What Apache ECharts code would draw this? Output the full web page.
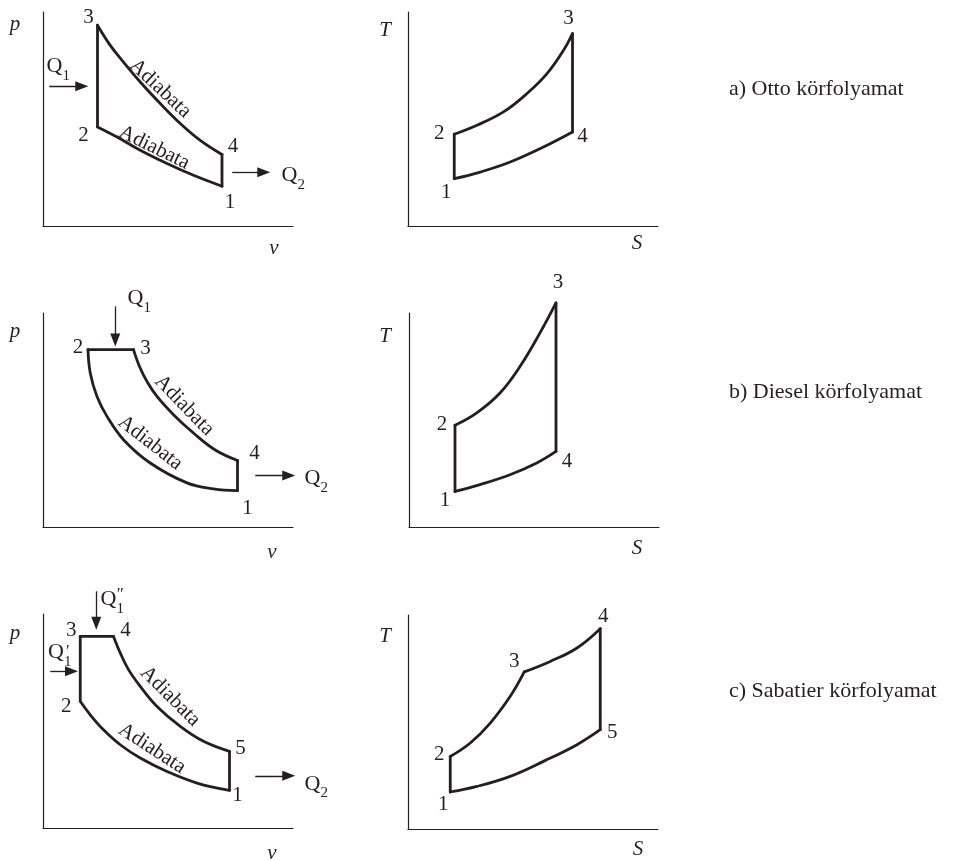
<!DOCTYPE html>
<html>
<head>
<meta charset="utf-8">
<title>Otto, Diesel, Sabatier körfolyamat</title>
<script src="https://cdn.jsdelivr.net/npm/echarts@6.0.0/dist/echarts.min.js"></script>
<style>
html,body{margin:0;padding:0;background:#ffffff;}
#chart{width:960px;height:860px;}
</style>
</head>
<body>
<div id="chart"></div>
<script>
// ======================= DATA (axes in 0–100 arbitrary units) =======================

// ---- a) Otto, p–v ----
const ottoPV_states   = { '1': [71.6, 18.6], '2': [21.8, 46.3], '3': [21.8, 93.8], '4': [71.6, 33.4] };
const ottoPV_adiab34  = [[21.8, 93.8], [26.9, 84.4], [32.2, 76.6], [38.9, 67.3], [46.9, 57.2], [54.9, 47.9], [62.9, 40.0], [71.6, 33.4]];
const ottoPV_adiab12  = [[21.8, 46.3], [29.6, 41.6], [38.9, 35.4], [49.6, 29.2], [60.2, 23.7], [71.6, 18.6]];
const ottoPV_Q1       = [[2.5, 65.3], [15.5, 65.3]];
const ottoPV_Q2       = [[75.7, 25.1], [88.3, 25.1]];
const ottoPV_adiabTxt = [[46.9, 64.2], [44.5, 36.6]];

// ---- a) Otto, T–S ----
const ottoTS_states   = { '1': [18.5, 22.1], '2': [18.5, 42.9], '3': [65.8, 89.9], '4': [65.8, 43.9] };
const ottoTS_heat23   = [[18.5, 42.9], [27.6, 47.1], [38.2, 53.3], [47.6, 61.9], [55.6, 71.2], [62.2, 82.1], [65.8, 89.9]];
const ottoTS_heat41   = [[18.5, 22.1], [28.9, 25.2], [40.9, 29.9], [54.2, 36.9], [65.8, 43.9]];

// ---- b) Diesel, p–v ----
const dieselPV_states   = { '1': [77.8, 17.0], '2': [18.0, 82.9], '3': [36.2, 82.9], '4': [77.8, 31.1] };
const dieselPV_adiab34  = [[36.2, 82.9], [38.6, 75.0], [41.6, 68.0], [45.6, 61.0], [52.2, 52.5], [60.2, 43.9], [68.9, 36.0], [77.8, 31.1]];
const dieselPV_adiab12  = [[18.0, 82.9], [18.9, 72.0], [21.6, 61.0], [25.6, 51.7], [32.2, 40.8], [42.9, 29.9], [57.6, 20.6], [68.2, 17.8], [77.8, 17.0]];
const dieselPV_Q1       = [[28.9, 103.1], [28.9, 87.4]];
const dieselPV_Q2       = [[84.9, 24.1], [98.3, 24.1]];
const dieselPV_adiabTxt = [[56.5, 56.8], [42.9, 39.3]];

// ---- b) Diesel, T–S ----
const dieselTS_states = { '1': [18.4, 16.6], '2': [18.4, 47.5], '3': [58.8, 104.7], '4': [58.8, 35.3] };
const dieselTS_heat23 = [[18.4, 47.5], [27.1, 53.3], [36.4, 62.6], [44.4, 75.0], [52.4, 90.7], [58.8, 104.7]];
const dieselTS_heat41 = [[18.4, 16.6], [28.4, 19.8], [40.4, 24.4], [51.1, 29.9], [58.8, 35.3]];

// ---- c) Sabatier, p–v ----
const sabPV_states   = { '1': [74.6, 17.6], '2': [14.9, 59.2], '3': [14.9, 89.5], '4': [28.2, 89.5], '5': [74.6, 35.8] };
const sabPV_adiab45  = [[28.2, 89.5], [30.9, 81.8], [34.2, 74.0], [38.9, 66.2], [45.6, 56.8], [54.9, 47.5], [64.2, 40.5], [74.6, 35.8]];
const sabPV_adiab12  = [[14.9, 59.2], [18.9, 52.9], [24.2, 45.9], [30.9, 38.9], [38.9, 32.7], [49.6, 26.4], [61.6, 21.0], [74.6, 17.6]];
const sabPV_Q1pp     = [[21.3, 110.6], [21.3, 95.7]];
const sabPV_Q1p      = [[2.9, 73.2], [11.4, 73.2]];
const sabPV_Q2       = [[84.9, 24.4], [98.3, 24.4]];
const sabPV_adiabTxt = [[50.9, 61.5], [43.6, 37.1]];

// ---- c) Sabatier, T–S ----
const sabTS_states = { '1': [16.9, 17.3], '2': [16.9, 33.9], '3': [46.5, 73.4], '4': [76.9, 93.6], '5': [76.9, 46.4] };
const sabTS_heat23 = [[16.9, 33.9], [24.9, 40.2], [32.9, 49.5], [40.9, 62.0], [46.5, 73.4]];
const sabTS_heat34 = [[46.5, 73.4], [56.9, 78.3], [67.6, 84.6], [76.9, 93.6]];
const sabTS_heat51 = [[16.9, 17.3], [27.6, 19.9], [40.9, 24.6], [54.2, 31.6], [67.6, 39.4], [76.9, 46.4]];

// ---- texts ----
const axisNames = [['v', 'p'], ['S', 'T'], ['v', 'p'], ['S', 'T'], ['v', 'p'], ['S', 'T']];
const captions  = ['a) Otto körfolyamat', 'b) Diesel körfolyamat', 'c) Sabatier körfolyamat'];
const ADIABATA  = 'Adiabata';

// ======================= PANELS (structure only) =======================
const s = (o, a, b) => [o[a], o[b]];
const panels = [
  { states: ottoPV_states,
    segments: [s(ottoPV_states, '2', '3'), ottoPV_adiab34, s(ottoPV_states, '4', '1'), ottoPV_adiab12],
    arrows: [{ line: ottoPV_Q1, sub: '1' }, { line: ottoPV_Q2, sub: '2' }],
    adiab: ottoPV_adiabTxt },
  { states: ottoTS_states,
    segments: [s(ottoTS_states, '1', '2'), ottoTS_heat23, s(ottoTS_states, '3', '4'), ottoTS_heat41],
    arrows: [], adiab: [] },
  { states: dieselPV_states,
    segments: [s(dieselPV_states, '2', '3'), dieselPV_adiab34, s(dieselPV_states, '4', '1'), dieselPV_adiab12],
    arrows: [{ line: dieselPV_Q1, sub: '1' }, { line: dieselPV_Q2, sub: '2' }],
    adiab: dieselPV_adiabTxt },
  { states: dieselTS_states,
    segments: [s(dieselTS_states, '1', '2'), dieselTS_heat23, s(dieselTS_states, '3', '4'), dieselTS_heat41],
    arrows: [], adiab: [] },
  { states: sabPV_states,
    segments: [s(sabPV_states, '2', '3'), s(sabPV_states, '3', '4'), sabPV_adiab45, s(sabPV_states, '5', '1'), sabPV_adiab12],
    arrows: [{ line: sabPV_Q1pp, sub: '1', prime: '\u2033' }, { line: sabPV_Q1p, sub: '1', prime: '\u2032' }, { line: sabPV_Q2, sub: '2' }],
    adiab: sabPV_adiabTxt },
  { states: sabTS_states,
    segments: [s(sabTS_states, '1', '2'), sabTS_heat23, sabTS_heat34, s(sabTS_states, '4', '5'), sabTS_heat51],
    arrows: [], adiab: [] }
];

// ======================= LAYOUT & STYLE =======================
const INK = '#231f20';
const SERIF = '"Liberation Serif","Times New Roman",Times,serif';
const GRID_POS = [
  { left: 43, top: 12 }, { left: 408, top: 12 },
  { left: 43, top: 313 }, { left: 409, top: 313 },
  { left: 43, top: 614 }, { left: 408, top: 615 }
];
const GRID_W = 250, GRID_H = 214;
const CAPTION_POS = [{ left: 729, top: 78 }, { left: 729, top: 381 }, { left: 729, top: 680 }];
const ARROW_PATH = 'path://M0,0M13,13M6.5,0L11.5,13L1.5,13Z';

const STYLE = [
  { state: { '1': [8, 16], '2': [-14, 9], '3': [-9, -8], '4': [11, -8] },
    qLab: [[9, -20], [61, 3]], prime: [], rot: [-43, -26], yName: [28, 12.5], xName: [-19, 22] },
  { state: { '1': [-8, 14], '2': [-15, -1], '3': [-4, -15], '4': [10, 4] },
    qLab: [], prime: [], rot: [], yName: [23, 18], xName: [-21, 17] },
  { state: { '1': [10, 18], '2': [-10, -2], '3': [12, -1], '4': [17, -7] },
    qLab: [[24, -8], [61, 3]], prime: [], rot: [-46, -38], yName: [28, 18.5], xName: [-21, 25] },
  { state: { '1': [-10, 9], '2': [-13, -1], '3': [2, -20], '4': [11, 10] },
    qLab: [], prime: [], rot: [], yName: [24, 23], xName: [-22, 21] },
  { state: { '1': [8, 5], '2': [-14, 5], '3': [-9, -6], '4': [12, -6], '5': [11, -3] },
    qLab: [[16, 8.3], [9.5, -19.2], [61, 8]], prime: [[24, 3], [17.5, -20], null], rot: [-45, -33], yName: [28, 19], xName: [-21, 25] },
  { state: { '1': [-7, 13], '2': [-11, -2], '3': [-10, -10], '4': [3, -12], '5': [12, 3] },
    qLab: [], prime: [], rot: [], yName: [23, 21], xName: [-20, 20] }
];

// ======================= OPTION =======================
const grid = [], xAxis = [], yAxis = [], series = [];
const axisCommon = {
  type: 'value', min: 0, max: 100,
  axisLine: { show: true, onZero: false, lineStyle: { color: INK, width: 1.2 } },
  axisTick: { show: false }, axisLabel: { show: false }, splitLine: { show: false },
  nameLocation: 'end'
};
const nameFont = { fontFamily: SERIF, fontStyle: 'italic', fontSize: 21, color: INK, align: 'center' };
const noBorder = { textBorderWidth: 0, textBorderColor: 'transparent', textShadowBlur: 0 };

panels.forEach((P, i) => {
  const S = STYLE[i];
  grid.push({ left: GRID_POS[i].left, top: GRID_POS[i].top, width: GRID_W, height: GRID_H, containLabel: false, outerBoundsMode: 'none' });
  xAxis.push(Object.assign({}, axisCommon, {
    gridIndex: i, name: axisNames[i][0], nameGap: S.xName[0],
    nameTextStyle: Object.assign({}, nameFont, { verticalAlign: 'top', lineHeight: 2 * S.xName[1] })
  }));
  yAxis.push(Object.assign({}, axisCommon, {
    gridIndex: i, name: axisNames[i][1], nameGap: -S.yName[1],
    nameTextStyle: Object.assign({}, nameFont, { verticalAlign: 'middle', padding: [0, 2 * S.yName[0], 0, 0] })
  }));

  P.segments.forEach(seg => series.push({
    type: 'line', xAxisIndex: i, yAxisIndex: i, data: seg,
    smooth: seg.length > 2 ? 0.4 : false, showSymbol: false, symbol: 'none',
    clip: false, silent: true, z: 3,
    lineStyle: { color: INK, width: 2.8, cap: 'round', join: 'round' }
  }));

  if (P.arrows.length) series.push({
    type: 'lines', coordinateSystem: 'cartesian2d', xAxisIndex: i, yAxisIndex: i,
    clip: false, silent: true, z: 3,
    symbol: ['none', ARROW_PATH], symbolSize: 13,
    lineStyle: { color: INK, width: 1.3, opacity: 1, curveness: 0 },
    itemStyle: { color: INK },
    data: P.arrows.map(a => ({ coords: a.line }))
  });

  const ann = [];
  Object.keys(P.states).forEach(k => ann.push({ name: k, value: P.states[k], label: { offset: S.state[k] } }));
  P.arrows.forEach((a, j) => {
    ann.push({ name: '{q|Q}{s|' + a.sub + '}', value: a.line[0], label: { offset: S.qLab[j] } });
    if (a.prime) ann.push({ name: a.prime, value: a.line[0], label: { offset: S.prime[j], fontSize: 17 } });
  });
  P.adiab.forEach((pt, j) => ann.push({ name: ADIABATA, value: pt, label: { rotate: S.rot[j], fontSize: 21 } }));

  series.push({
    type: 'scatter', xAxisIndex: i, yAxisIndex: i, symbolSize: 0, clip: false, silent: true, z: 4,
    itemStyle: { color: INK, opacity: 1 },
    label: Object.assign({
      show: true, position: 'inside', color: INK, opacity: 1, fontFamily: SERIF, fontSize: 21,
      formatter: p => p.name,
      rich: {
        q: Object.assign({ fontFamily: SERIF, fontSize: 22, color: INK, lineHeight: 34 }, noBorder),
        s: Object.assign({ fontFamily: SERIF, fontSize: 15, color: INK, lineHeight: 15, verticalAlign: 'bottom' }, noBorder)
      }
    }, noBorder),
    data: ann
  });
});

const option = {
  backgroundColor: '#ffffff',
  animation: false,
  title: captions.map((t, k) => ({
    text: t, left: CAPTION_POS[k].left, top: CAPTION_POS[k].top, padding: 0,
    textStyle: { fontFamily: SERIF, fontWeight: 'normal', fontSize: 22, color: INK }
  })),
  grid, xAxis, yAxis, series
};

const chart = echarts.init(document.getElementById('chart'), null, { renderer: 'canvas' });
chart.setOption(option);
</script>
</body>
</html>
